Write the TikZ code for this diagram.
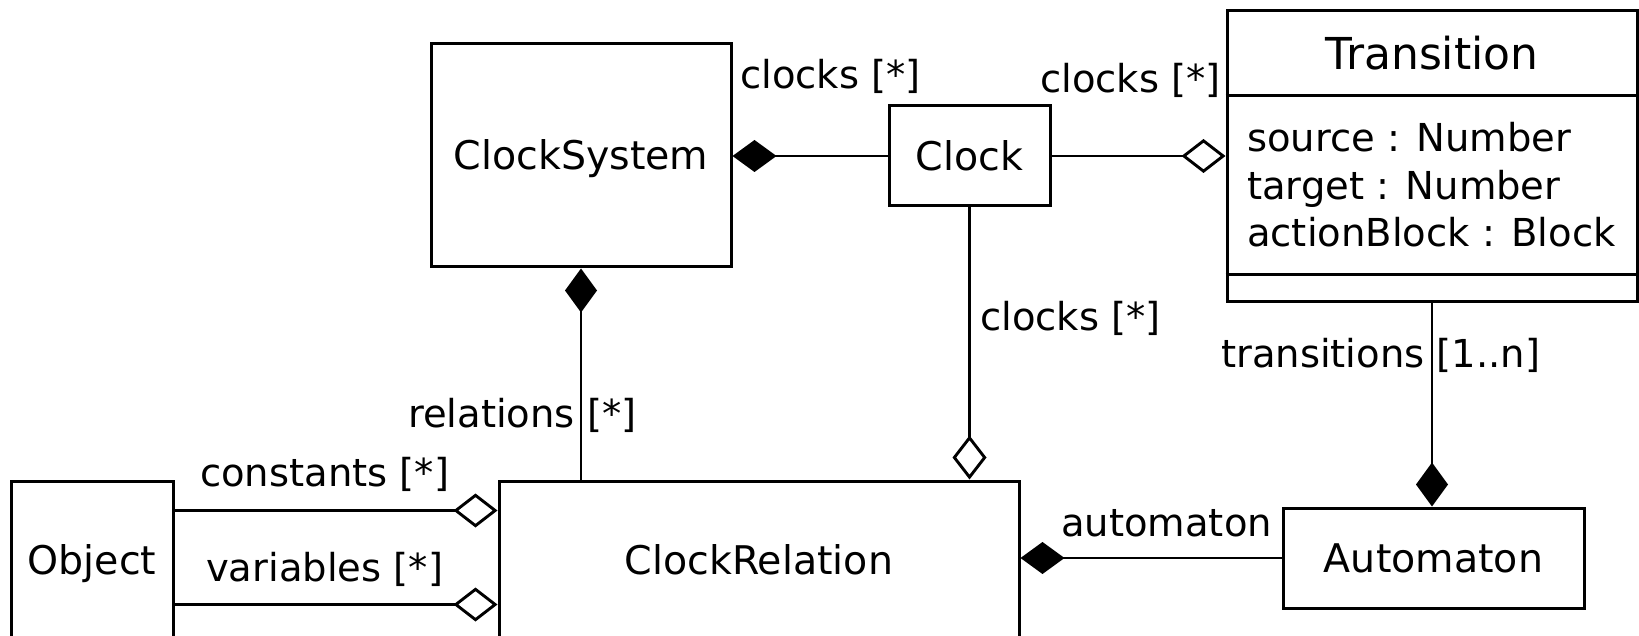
\documentclass[tikz,border=0pt]{standalone}
\usepackage{fontspec}
\setsansfont{DejaVu Sans}
\usetikzlibrary{arrows.meta,calc}

\tikzset{
  umlfont/.style={font=\sffamily\fontsize{38.5}{46}\selectfont},
  classbox/.style={draw, line width=3pt, inner sep=0pt,
    font=\sffamily\fontsize{39.5}{46}\selectfont, text height=29pt, text depth=0pt},
  lbl/.style={inner sep=0pt, anchor=base west, umlfont},
  assoc/.style={line width=2.9pt},
  comp/.style={assoc, {Diamond[length=44pt,width=32pt]}-},
  aggr/.style={assoc, {Diamond[open,length=44pt,width=34pt]}-}
}

\begin{document}
\begin{tikzpicture}[x=1pt,y=-1pt]
  \useasboundingbox (0,0) rectangle (1639,636);

  % Classes
  \node[classbox, minimum width=300pt, minimum height=223pt] (clocksystem) at (581,155.5) {ClockSystem};
  \node[classbox, minimum width=161pt, minimum height=100pt] (clock) at (969.5,156) {Clock};
  \node[classbox, minimum width=410pt, minimum height=291pt] (transition) at (1432,156.5) {};
  \node[classbox, minimum width=162pt, minimum height=157pt] (object) at (92,559.5) {Object};
  \node[classbox, minimum width=520pt, minimum height=157pt] (clockrelation) at (759,559.5) {ClockRelation};
  \node[classbox, minimum width=301pt, minimum height=100pt] (automaton) at (1433.5,558) {Automaton};

  % Transition compartments
  \draw[line width=3pt] ($(transition.north west)+(0,86)$) -- ($(transition.north east)+(0,86)$);
  \draw[line width=3pt] ($(transition.south west)+(0,-29)$) -- ($(transition.south east)+(0,-29)$);
  \node[font=\sffamily\fontsize{44}{50}\selectfont, inner sep=0pt, anchor=base] (transname) at (1432,70) {Transition};
  \node[lbl] (attrsource) at (1247,152) {source : Number};
  \node[lbl] (attrtarget) at (1247,200) {target : Number};
  \node[lbl] (attraction) at (1247,247) {actionBlock : Block};

  % Associations
  \draw[comp] (clocksystem.east |- clock.west) -- (clock.west);
  \draw[aggr] (transition.west |- clock.east) -- (clock.east);
  \draw[aggr] (clock.south |- clockrelation.north) -- (clock.south);
  \draw[comp] (clocksystem.south) -- (clocksystem.south |- clockrelation.north);
  \draw[comp] (transition.south |- automaton.north) -- (transition.south);
  \draw[comp] (clockrelation.east |- automaton.west) -- (automaton.west);
  \draw[aggr] ($(clockrelation.north west)+(0,31)$) -- ($(object.north east)+(0,31)$);
  \draw[aggr] ($(clockrelation.north west)+(0,125)$) -- ($(object.north east)+(0,125)$);

  % Role names
  \node[lbl] (lclocksys) at (740,89) {clocks [*]};
  \node[lbl] (lclocktrans) at (1040,93) {clocks [*]};
  \node[lbl] (lclockrel) at (980,331) {clocks [*]};
  \node[lbl] (lrelations) at (408,427) {relations [*]};
  \node[lbl] (ltransitions) at (1221,367) {transitions [1..n]};
  \node[lbl] (lconstants) at (200,486) {constants [*]};
  \node[lbl] (lvariables) at (206,581) {variables [*]};
  \node[lbl] (lautomaton) at (1061,536) {automaton};
\end{tikzpicture}
\end{document}
